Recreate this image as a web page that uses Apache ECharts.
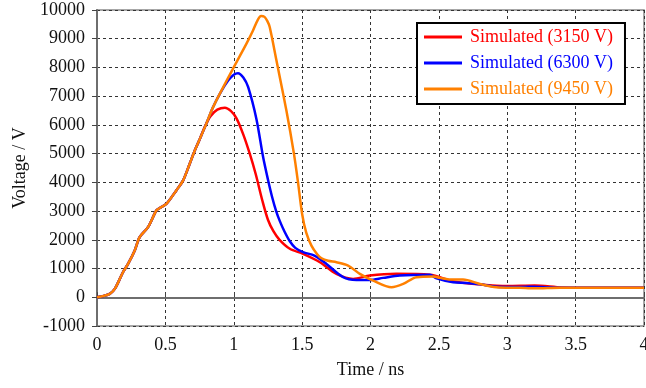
<!DOCTYPE html>
<html>
<head>
<meta charset="utf-8">
<script src="https://cdn.jsdelivr.net/npm/echarts@6/dist/echarts.min.js"></script>
<style>
  html, body { margin: 0; padding: 0; background: #fff; }
  #chart { width: 646px; height: 388px; }
</style>
</head>
<body>
<div id="chart"></div>
<script>
// Pulse voltage waveforms at three charging levels (time in ns, voltage in V)
const seriesNames = ['Simulated (3150 V)', 'Simulated (6300 V)', 'Simulated (9450 V)'];
const seriesColors = ['#ff0000', '#0000ff', '#ff8000'];

// Common rising edge shared by all three waveforms
const timeRise = [0, 0.05, 0.093, 0.13, 0.19, 0.227, 0.276, 0.312, 0.373, 0.434, 0.459, 0.507, 0.58, 0.63, 0.678, 0.715, 0.751];
const voltRise = [0, 50, 118, 290, 870, 1160, 1630, 2090, 2440, 3020, 3110, 3250, 3720, 4070, 4650, 5110, 5500];

const timeRed = [0.79, 0.83, 0.88, 0.935, 0.98, 1.02, 1.068, 1.117, 1.16, 1.21, 1.25, 1.29, 1.335, 1.41, 1.507, 1.63, 1.751, 1.873, 1.995, 2.19, 2.434, 2.6, 2.8, 3.0, 3.2, 3.4, 3.6, 4.0];
const voltRed = [5950, 6300, 6530, 6600, 6480, 6230, 5690, 5000, 4300, 3350, 2700, 2300, 2000, 1690, 1510, 1220, 815, 640, 755, 815, 780, 560, 450, 390, 410, 340, 330, 330];

const timeBlue = [0.8, 0.849, 0.9, 0.96, 1.0, 1.031, 1.07, 1.105, 1.166, 1.214, 1.25, 1.28, 1.31, 1.337, 1.37, 1.41, 1.45, 1.507, 1.59, 1.678, 1.8, 1.897, 1.995, 2.092, 2.214, 2.434, 2.483, 2.604, 2.7, 2.8, 2.92, 3.1, 3.2, 3.385, 4.0];
const voltBlue = [6050, 6620, 7100, 7550, 7750, 7800, 7650, 7320, 6200, 4900, 4100, 3500, 3000, 2650, 2300, 1950, 1720, 1570, 1450, 1160, 700, 605, 605, 675, 755, 780, 660, 520, 500, 450, 370, 360, 370, 330, 330];

const timeOrange = [0.8, 0.849, 0.995, 1.093, 1.14, 1.175, 1.2, 1.225, 1.245, 1.263, 1.312, 1.385, 1.44, 1.47, 1.5, 1.53, 1.568, 1.61, 1.642, 1.69, 1.751, 1.836, 1.922, 2.02, 2.154, 2.239, 2.336, 2.458, 2.507, 2.604, 2.677, 2.8, 2.92, 3.09, 3.2, 3.385, 3.507, 3.75, 4.0];
const voltOrange = [6050, 6620, 7960, 8830, 9280, 9650, 9790, 9760, 9620, 9410, 8250, 6500, 5000, 4000, 2900, 2250, 1800, 1500, 1360, 1270, 1220, 1105, 815, 580, 350, 465, 700, 720, 675, 615, 615, 465, 350, 330, 310, 330, 330, 330, 330];

const xTicks = { min: 0, max: 4, interval: 0.5 };
const yTicks = { min: -1000, max: 10000, interval: 1000 };

function pairs(ts, vs) {
  return ts.map((t, i) => [t, vs[i]]);
}
const risePairs = pairs(timeRise, voltRise);
const seriesData = [
  risePairs.concat(pairs(timeRed, voltRed)),
  risePairs.concat(pairs(timeBlue, voltBlue)),
  risePairs.concat(pairs(timeOrange, voltOrange))
];

const serif = '"Liberation Serif", "Times New Roman", serif';
const chart = echarts.init(document.getElementById('chart'), null, { renderer: 'canvas' });

chart.setOption({
  animation: false,
  backgroundColor: '#ffffff',
  grid: {
    left: 97, right: 2, top: 10, bottom: 62,
    outerBoundsMode: 'none',
    containLabel: false,
    show: true, borderColor: '#8a8a8a', borderWidth: 1.5, backgroundColor: 'transparent'
  },
  legend: {
    orient: 'vertical',
    left: 417, top: 23,
    padding: [5, 12, 6, 7],
    itemGap: 8,
    itemWidth: 38, itemHeight: 3,
    icon: 'rect',
    borderColor: '#000', borderWidth: 2,
    backgroundColor: '#fff',
    textStyle: { fontFamily: serif, fontSize: 18, padding: [0, 0, 0, 3] },
    data: seriesNames.map((n, i) => ({ name: n, textStyle: { color: seriesColors[i] } }))
  },
  xAxis: {
    type: 'value',
    min: xTicks.min, max: xTicks.max, interval: xTicks.interval,
    name: 'Time / ns', nameLocation: 'middle', nameGap: 35,
    nameTextStyle: { fontFamily: serif, fontSize: 18, color: '#111' },
    axisLine: { lineStyle: { color: '#6e6e6e', width: 2 } },
    axisTick: { inside: true, length: 5, lineStyle: { color: '#444' } },
    axisLabel: { fontFamily: serif, fontSize: 18, color: '#111', margin: 10, formatter: v => String(v) },
    splitLine: { show: true, lineStyle: { color: '#333', type: [3, 3], width: 1 } }
  },
  yAxis: {
    type: 'value',
    min: yTicks.min, max: yTicks.max, interval: yTicks.interval,
    name: 'Voltage / V', nameLocation: 'middle', nameGap: 50,
    nameTextStyle: { fontFamily: serif, fontSize: 18, color: '#111' },
    axisLine: { show: true, lineStyle: { color: '#6e6e6e', width: 2 } },
    axisTick: { show: true, inside: false, length: 5, lineStyle: { color: '#444' } },
    axisLabel: { fontFamily: serif, fontSize: 18, color: '#111', margin: 12, formatter: v => String(v) },
    splitLine: { show: true, lineStyle: { color: '#333', type: [3, 3], width: 1 } }
  },
  series: seriesNames.map((n, i) => ({
    name: n,
    type: 'line',
    data: seriesData[i],
    smooth: 0.3,
    showSymbol: false,
    symbol: 'none',
    lineStyle: { color: seriesColors[i], width: 2.5 },
    itemStyle: { color: seriesColors[i] },
    z: 2 + i
  }))
});
</script>
</body>
</html>
